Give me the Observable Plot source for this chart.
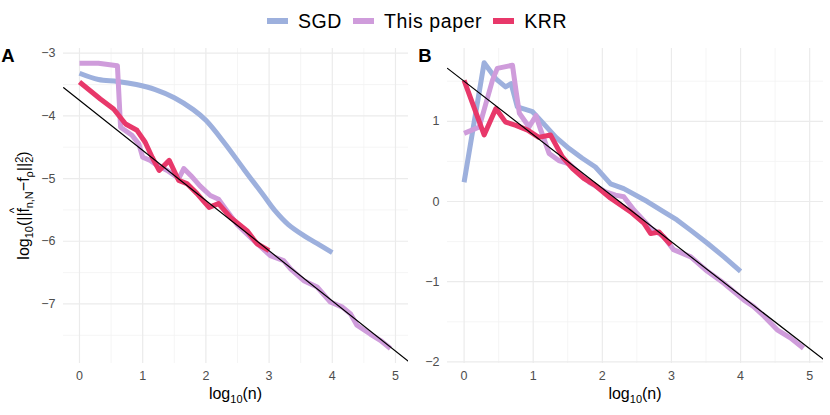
<!DOCTYPE html>
<html><head><meta charset="utf-8">
<script src="https://cdn.jsdelivr.net/npm/d3@7"></script>
<script src="https://cdn.jsdelivr.net/npm/@observablehq/plot@0.6"></script>
<style>
body{margin:0;background:#fff;font-family:"Liberation Sans",Arial,sans-serif;}
#wrap{position:relative;width:830px;height:415px;overflow:hidden;background:#fff;}
#legend{position:absolute;left:267px;top:10px;display:flex;align-items:center;font-size:19.5px;line-height:22px;letter-spacing:0.6px;color:#000;white-space:nowrap;}
.item{display:flex;align-items:center;margin-right:11px;}
.sw{display:inline-block;width:21px;height:5.5px;margin-right:10px;}
#pA{position:absolute;left:0;top:35px;}
#pB{position:absolute;left:415px;top:35px;}
</style></head>
<body>
<div id="wrap">
  <div id="legend"></div>
  <div id="pA"></div>
  <div id="pB"></div>
</div>
<script>
// ---- data ----
const seriesNames = ["SGD", "This paper", "KRR"];
const seriesColors = ["#9db0dd", "#cf9cdb", "#e8386a"];

const xTicks = [0, 1, 2, 3, 4, 5];
const xMinor = [0.5, 1.5, 2.5, 3.5, 4.5];
const yTicksA = [-3, -4, -5, -6, -7];
const yMinorA = [-3.5, -4.5, -5.5, -6.5, -7.5];
const yTicksB = [1, 0, -1, -2];
const yMinorB = [1.5, 0.5, -0.5, -1.5];

// Panel A
const sgdAX = [0, 0.3, 0.6, 0.9, 1.2, 1.5, 1.8, 2.0, 2.3, 2.6, 2.9, 3.1, 3.3, 3.55, 3.75, 4.0];
const sgdAY = [-3.32, -3.42, -3.45, -3.50, -3.58, -3.71, -3.90, -4.07, -4.44, -4.85, -5.25, -5.52, -5.73, -5.91, -6.03, -6.18];
const paperAX = [0, 0.3, 0.6, 0.65, 0.83, 0.94, 1.0, 1.12, 1.23, 1.39, 1.57, 1.65, 1.76, 1.91, 2.07, 2.2, 2.3, 2.5, 2.76, 3.02, 3.23, 3.34, 3.55, 3.76, 3.97, 4.16, 4.29, 4.39, 4.6, 4.76, 4.92];
const paperAY = [-3.16, -3.16, -3.20, -4.18, -4.31, -4.45, -4.66, -4.71, -4.79, -4.87, -5.0, -4.84, -4.95, -5.12, -5.27, -5.33, -5.47, -5.74, -5.99, -6.23, -6.31, -6.44, -6.63, -6.73, -6.97, -7.05, -7.16, -7.34, -7.48, -7.58, -7.71];
const krrAX = [0, 0.33, 0.54, 0.73, 0.91, 1.04, 1.15, 1.26, 1.42, 1.57, 1.70, 1.86, 1.98, 2.05, 2.2, 2.39, 2.65, 2.81, 3.0];
const krrAY = [-3.46, -3.73, -3.89, -4.13, -4.23, -4.42, -4.66, -4.87, -4.71, -5.03, -5.08, -5.24, -5.38, -5.46, -5.40, -5.62, -5.83, -6.04, -6.15];
const refAX = [-0.25, 5.21];
const refAY = [-3.55, -7.92];

// Panel B
const sgdBX = [0, 0.29, 0.46, 0.6, 0.68, 0.77, 0.99, 1.13, 1.33, 1.52, 1.71, 1.90, 2.12, 2.31, 2.65, 2.89, 3.08, 3.28, 3.52, 3.76, 4.0];
const sgdBY = [0.24, 1.73, 1.53, 1.43, 1.47, 1.18, 1.12, 0.99, 0.80, 0.66, 0.54, 0.43, 0.22, 0.16, 0.0, -0.13, -0.23, -0.36, -0.52, -0.69, -0.87];
const paperBX = [0, 0.22, 0.41, 0.48, 0.70, 0.75, 0.80, 0.94, 1.04, 1.11, 1.23, 1.37, 1.52, 1.66, 1.81, 2.05, 2.19, 2.31, 2.46, 2.70, 2.89, 3.03, 3.28, 3.52, 3.76, 4.05, 4.19, 4.34, 4.53, 4.72, 4.91];
const paperBY = [0.85, 0.93, 1.51, 1.66, 1.70, 1.39, 1.10, 0.93, 1.07, 0.89, 0.60, 0.51, 0.47, 0.36, 0.24, 0.12, 0.08, 0.06, -0.11, -0.33, -0.44, -0.60, -0.69, -0.87, -1.02, -1.23, -1.31, -1.43, -1.60, -1.70, -1.83];
const krrBX = [0, 0.29, 0.46, 0.60, 0.75, 0.92, 1.08, 1.25, 1.42, 1.57, 1.73, 1.90, 2.12, 2.41, 2.60, 2.70, 2.82, 2.99];
const krrBY = [1.51, 0.83, 1.16, 0.99, 0.95, 0.89, 0.80, 0.83, 0.56, 0.41, 0.29, 0.20, 0.04, -0.13, -0.27, -0.40, -0.38, -0.54];
const refBX = [-0.24, 5.2];
const refBY = [1.66, -1.97];

// ---- helpers ----
const rows = (xs, ys) => xs.map((x, i) => ({x, y: ys[i]}));
const minus = d => String(d).replace("-", "\u2212");

// legend
const lg = d3.select("#legend");
seriesNames.forEach((n, i) => {
  const it = lg.append("div").attr("class", "item");
  it.append("span").attr("class", "sw").style("background", seriesColors[i]);
  it.append("span").text(n);
});

function panel({ml, xDomain, yDomain, yTicks, yMinor, sgd, paper, krr, ref, sgdCurve}) {
  const lineOpts = (c, curve = "linear") => ({x: "x", y: "y", stroke: c, strokeWidth: 5, strokeLinejoin: "round", strokeLinecap: "butt", curve});
  return Plot.plot({
    width: 415, height: 380,
    marginLeft: ml, marginRight: 7, marginTop: 13, marginBottom: 52,
    x: {domain: xDomain},
    y: {domain: yDomain},
    style: {fontFamily: "Liberation Sans, Arial, sans-serif", fontSize: "12.5px", color: "#4d4d4d", background: "white"},
    marks: [
      Plot.ruleX(xMinor, {stroke: "#f3f3f3", strokeWidth: 0.8}),
      Plot.ruleY(yMinor, {stroke: "#f3f3f3", strokeWidth: 0.8}),
      Plot.ruleX(xTicks, {stroke: "#ebebeb", strokeWidth: 1.2}),
      Plot.ruleY(yTicks, {stroke: "#ebebeb", strokeWidth: 1.2}),
      Plot.axisX({ticks: xTicks, tickSize: 0, tickPadding: 8, label: null, tickFormat: minus}),
      Plot.axisY({ticks: yTicks, tickSize: 0, tickPadding: 8, label: null, tickFormat: minus}),
      Plot.line(sgd, lineOpts(seriesColors[0], sgdCurve)),
      Plot.line(paper, lineOpts(seriesColors[1])),
      Plot.line(krr, lineOpts(seriesColors[2])),
      Plot.line(ref, {x: "x", y: "y", stroke: "black", strokeWidth: 1.2, clip: true})
    ]
  });
}

const svgA = panel({
  ml: 63, xDomain: [-0.253, 5.206], yDomain: [-7.95, -2.925],
  yTicks: yTicksA, yMinor: yMinorA, sgdCurve: "catmull-rom",
  sgd: rows(sgdAX, sgdAY), paper: rows(paperAX, paperAY), krr: rows(krrAX, krrAY), ref: rows(refAX, refAY)
});
const svgB = panel({
  ml: 32, xDomain: [-0.24, 5.2], yDomain: [-2.02, 1.908],
  yTicks: yTicksB, yMinor: yMinorB, sgdCurve: "linear",
  sgd: rows(sgdBX, sgdBY), paper: rows(paperBX, paperBY), krr: rows(krrBX, krrBY), ref: rows(refBX, refBY)
});
document.getElementById("pA").appendChild(svgA);
document.getElementById("pB").appendChild(svgB);

function xTitle(svg, cx) {
  const t = d3.select(svg).append("text")
    .attr("x", cx).attr("y", 364).attr("text-anchor", "middle")
    .attr("fill", "#000").style("font-size", "16px").style("font-family", "Liberation Sans, Arial, sans-serif");
  t.append("tspan").text("log");
  t.append("tspan").attr("dy", 4).style("font-size", "11px").text("10");
  t.append("tspan").attr("dy", -4).text("(n)");
}
function tag(svg, x, s) {
  d3.select(svg).append("text").attr("x", x).attr("y", 27).attr("fill", "#000")
    .style("font-size", "18.5px").style("font-weight", "bold").style("font-family", "Liberation Sans, Arial, sans-serif").text(s);
}
xTitle(svgA, 235.5);
xTitle(svgB, 220);
tag(svgA, 8, "A");
tag(svgB, 10, "B");

// y title of panel A
{
  const t = d3.select(svgA).append("text")
    .attr("transform", "translate(29,170.5) rotate(-90)")
    .attr("text-anchor", "middle").attr("fill", "#000")
    .style("font-size", "16px").style("font-family", "Liberation Sans, Arial, sans-serif");
  t.append("tspan").text("log");
  t.append("tspan").attr("dy", 4).style("font-size", "11px").text("10");
  t.append("tspan").attr("dy", -4).text("(||f");
  t.append("tspan").attr("dx", -5.2).attr("dy", -11).style("font-size", "12px").text("^");
  t.append("tspan").attr("dx", -0.8).attr("dy", 15).style("font-size", "11px").text("n,N");
  t.append("tspan").attr("dy", -4).text("\u2212f");
  t.append("tspan").attr("dy", 4).style("font-size", "11px").text("\u03c1");
  t.append("tspan").attr("dy", -4).text("||");
  t.append("tspan").attr("dy", -6).style("font-size", "11px").text("2");
  t.append("tspan").attr("dx", -6.1).attr("dy", 10).style("font-size", "11px").text("2");
  t.append("tspan").attr("dy", -4).text(")");
}
</script>
</body></html>
